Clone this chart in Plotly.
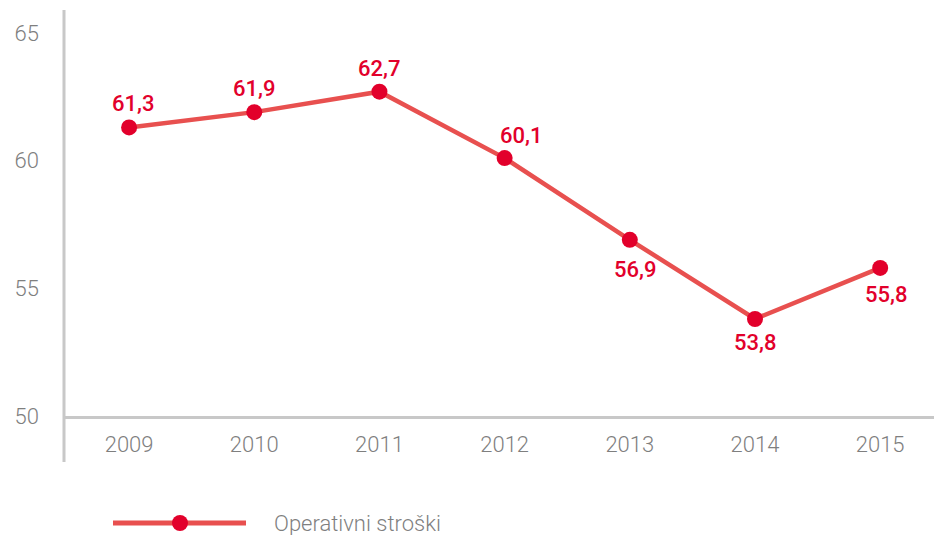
import plotly.graph_objects as go

# Operating costs by year
years = ["2009", "2010", "2011", "2012", "2013", "2014", "2015"]
costs = [61.3, 61.9, 62.7, 60.1, 56.9, 53.8, 55.8]
series_name = "Operativni stroški"
y_ticks = [50, 55, 60, 65]

# label offsets (px) from each point
label_dx = [4, 0, 0, 16, 5, 0, 6]
label_dy = [24, 24, 23, 23, -30, -24, -27]

LINE_COLOR = "#E8504F"
MARK_COLOR = "#E2002B"
AXIS_COLOR = "#C8C8C8"
TICK_COLOR = "#7F7F7F"

labels = [f"{v:.1f}".replace(".", ",") for v in costs]

tick_font = dict(family="Roboto", size=22, color=TICK_COLOR, weight=300)
label_font = dict(family="Roboto", size=22, color=MARK_COLOR, weight=500)

fig = go.Figure()
fig.add_trace(go.Scatter(
    x=years, y=costs, mode="lines+markers",
    name=series_name,
    line=dict(color=LINE_COLOR, width=4.5),
    marker=dict(color=MARK_COLOR, size=16),
    cliponaxis=False,
    showlegend=False,
))

# value labels: category axes position annotations by category index
annotations = [
    dict(x=i, y=y, text=t, xref="x", yref="y", showarrow=False,
         xanchor="center", yanchor="middle", xshift=dx, yshift=dy, font=label_font)
    for i, (y, t, dx, dy) in enumerate(zip(costs, labels, label_dx, label_dy))
]
annotations.append(
    dict(text=series_name, xref="paper", yref="paper",
         x=(272 - 64) / 870, y=-(523 - 416) / 406,
         xanchor="left", yanchor="middle", showarrow=False,
         font=tick_font)
)

fig.update_layout(
    width=934, height=535,
    margin=dict(l=64, r=0, t=10, b=119),
    plot_bgcolor="white", paper_bgcolor="white",
    xaxis=dict(
        type="category", range=[-0.52, 6.43],
        showgrid=False, zeroline=False,
        showline=True, linecolor=AXIS_COLOR, linewidth=3,
        ticks="", ticklabelstandoff=7,
        tickfont=tick_font,
    ),
    yaxis=dict(
        range=[50, 65.9], tickvals=y_ticks,
        showgrid=False, zeroline=False, showline=False,
        ticks="", ticklabelstandoff=24,
        tickfont=tick_font,
    ),
    shapes=[
        # vertical axis line extending below the baseline
        dict(type="line", xref="paper", yref="paper", x0=0, x1=0, y0=-0.113, y1=1,
             line=dict(color=AXIS_COLOR, width=3)),
        # legend line and dot
        dict(type="line", xref="paper", yref="paper", x0=(113 - 64) / 870, x1=(246 - 64) / 870,
             y0=-(523 - 416) / 406, y1=-(523 - 416) / 406,
             line=dict(color=LINE_COLOR, width=5)),
        dict(type="circle", xref="paper", yref="paper",
             x0=(172 - 64) / 870, x1=(188 - 64) / 870,
             y0=-(531 - 416) / 406, y1=-(515 - 416) / 406,
             fillcolor=MARK_COLOR, line=dict(width=0)),
    ],
    annotations=annotations,
)

fig.write_html("out.html")
